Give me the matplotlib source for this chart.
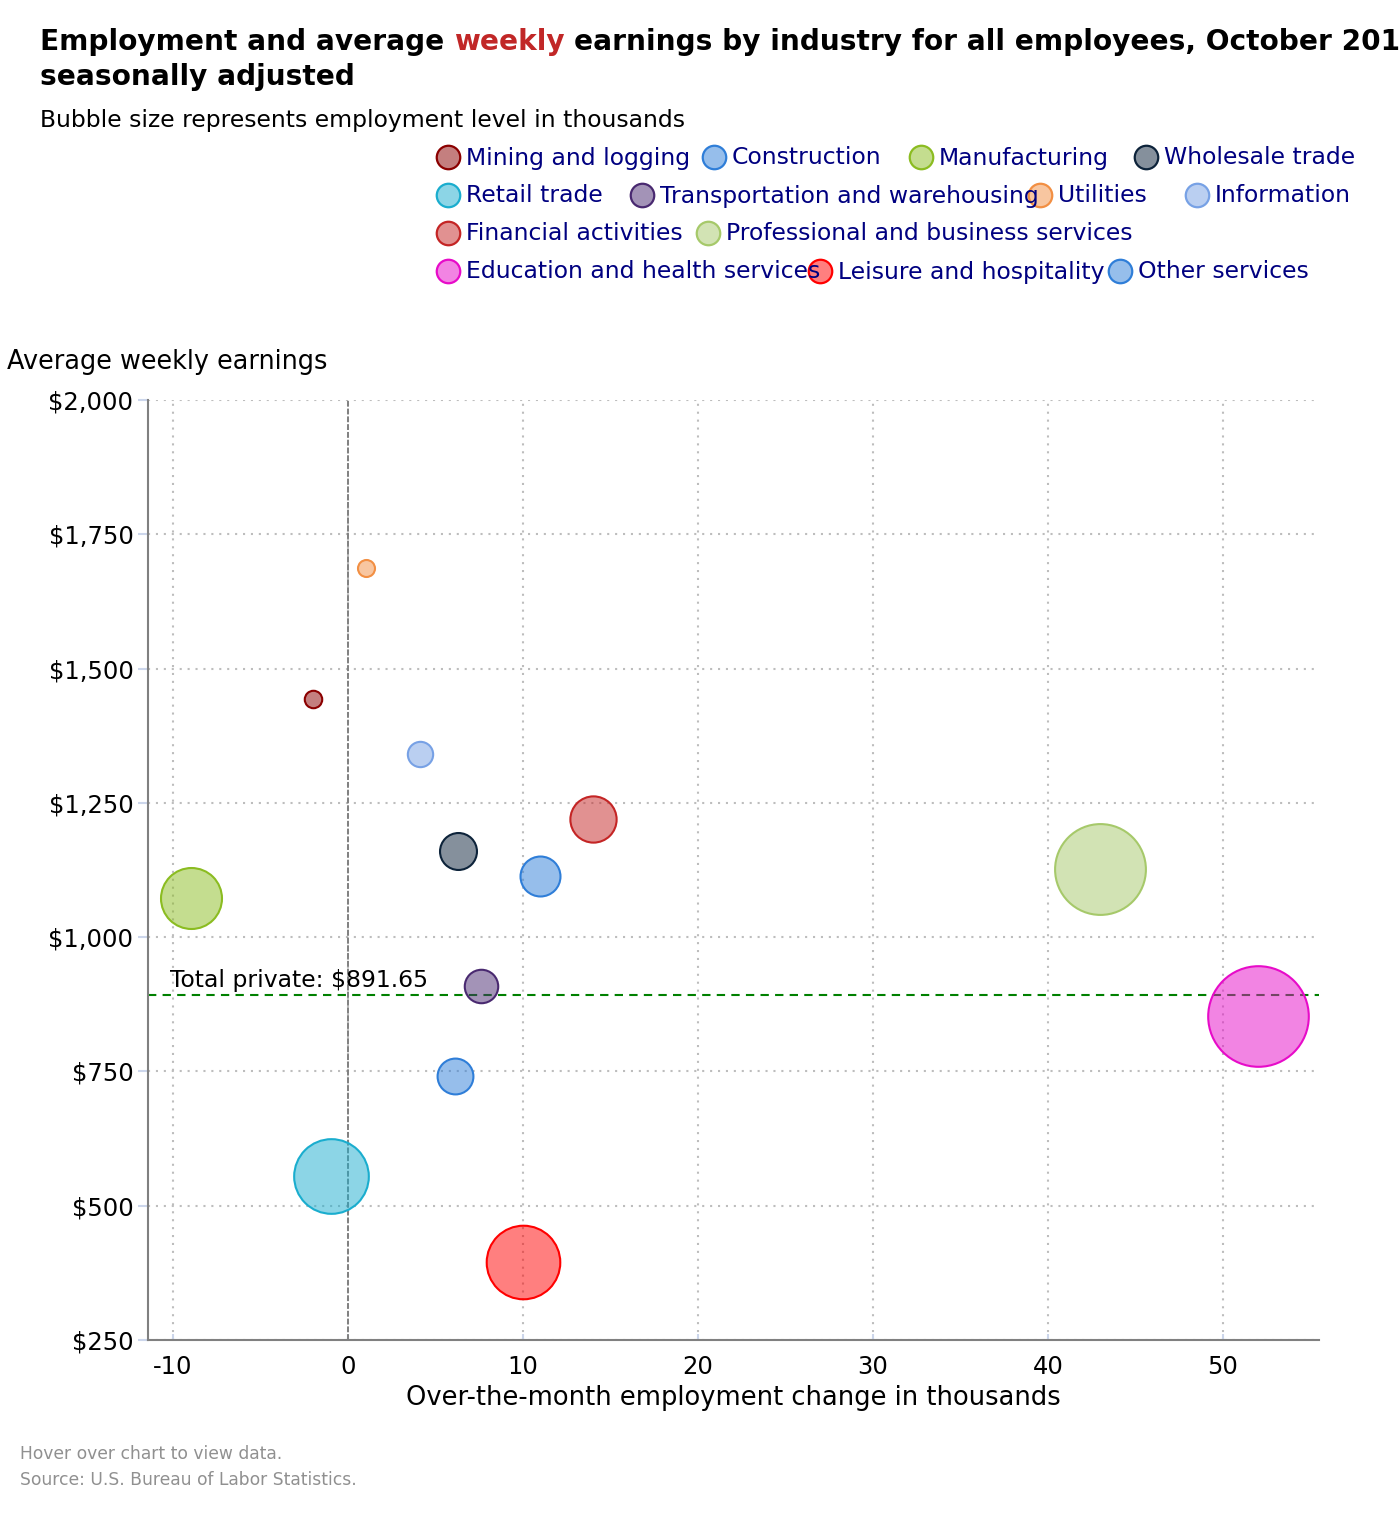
import matplotlib
matplotlib.use("Agg")
import matplotlib.pyplot as plt
from matplotlib.colors import to_rgba

# ---------------- data ----------------
industries = ["Mining and logging", "Construction", "Manufacturing", "Wholesale trade",
              "Retail trade", "Transportation and warehousing", "Utilities", "Information",
              "Financial activities", "Professional and business services",
              "Education and health services", "Leisure and hospitality", "Other services"]
employment_change = [-2.0, 11.0, -9.0, 6.3, -1.0, 7.6, 1.0, 4.1, 14.0, 43.0, 52.0, 10.0, 6.1]
weekly_earnings = [1443, 1114, 1073, 1160, 555, 909, 1687, 1341, 1220, 1127, 853, 395, 742]
employment_level = [679, 6683, 12290, 5880, 15940, 4950, 556, 2780, 8360, 20250, 22860, 15650, 5580]
edge_colors = ["#8B0000", "#2F7ED8", "#8BBC21", "#0D233A", "#1AADCE", "#492970", "#F28F43",
               "#77A1E5", "#C42525", "#A6C96A", "#E70BC9", "#FF0000", "#2F7ED8"]
total_private = 891.65
x_ticks = [-10, 0, 10, 20, 30, 40, 50]
y_ticks = [250, 500, 750, 1000, 1250, 1500, 1750, 2000]

# ---------------- figure ----------------
W, H, DPI = 1400, 1520, 100
fig = plt.figure(figsize=(W / DPI, H / DPI), dpi=DPI)
plt.rcParams["font.family"] = ["DejaVu Sans"]

def fx(px):
    return px / W

def fy(py):
    return 1 - py / H

# overlay axes in pixel coordinates for title / legend / notes
ov = fig.add_axes([0, 0, 1, 1])
ov.set_xlim(0, W)
ov.set_ylim(H, 0)
ov.axis("off")

# main axes
ax = fig.add_axes([fx(148), fy(1340), fx(1319 - 148), (1340 - 400) / H])
ax.set_xlim(-11.43, 55.49)
ax.set_ylim(250, 2000)

ax.grid(True, linestyle=(0, (1, 2.8)), color="#bdbdbd", linewidth=1.5, zorder=0)
ax.set_axisbelow(True)
for s in ["top", "right"]:
    ax.spines[s].set_visible(False)
for s in ["left", "bottom"]:
    ax.spines[s].set_color("#808080")
    ax.spines[s].set_linewidth(1.5)

ax.set_xticks(x_ticks)
ax.set_xticklabels([str(v) for v in x_ticks])
ax.set_yticks(y_ticks)
ax.set_yticklabels(["${:,}".format(v) for v in y_ticks])
ax.tick_params(axis="y", direction="out", length=7, width=1.5, color="#ccd6eb",
               pad=3.5, labelsize=17.5)
ax.tick_params(axis="x", direction="in", length=4, width=1.5, color="#ccd6eb",
               pad=11, labelsize=17.5)

# reference lines
ax.axvline(0, color="#808080", linestyle=(0, (3, 1)), linewidth=1.4, zorder=1)
ax.axhline(total_private, color="#008000", linestyle=(0, (4, 3)), linewidth=1.5, zorder=1)
ax.annotate("Total private: ${:,.2f}".format(total_private), xy=(-10.17, total_private),
            xytext=(0, 6), textcoords="offset points", fontsize=16.9, color="black",
            va="baseline", ha="left")

# bubbles (diameter linear in employment level between min and max size)
zmin, zmax = min(employment_level), max(employment_level)
dmin_px, dmax_px = 17.0, 100.6
for x, y, z, c in zip(employment_change, weekly_earnings, employment_level, edge_colors):
    d = dmin_px + (z - zmin) / (zmax - zmin) * (dmax_px - dmin_px)
    s = (d * 72 / DPI) ** 2
    ax.scatter([x], [y], s=s, facecolor=to_rgba(c, 0.5), edgecolor=c, linewidth=1.5, zorder=3)

# axis titles
fig.text(fx(733.5), fy(1405), "Over-the-month employment change in thousands",
         ha="center", va="baseline", fontsize=18.5)
fig.text(fx(7), fy(369), "Average weekly earnings", ha="left", va="baseline", fontsize=18.4)

# ---------------- title ----------------
fig.canvas.draw()
renderer = fig.canvas.get_renderer()

def width_px(text, **kw):
    t = fig.text(0, 0, text, **kw)
    w = t.get_window_extent(renderer=renderer).width
    t.remove()
    return w

tkw = dict(fontsize=20.2, fontweight="bold")
space = width_px("a a", **tkw) - width_px("aa", **tkw)
pieces = [("Employment and average", "black"), ("weekly", "#C12727"),
          ("earnings by industry for all employees, October 2016,", "black")]
xpos = 40
for txt, col in pieces:
    t = fig.text(fx(xpos), fy(50), txt, color=col, ha="left", va="baseline", **tkw)
    xpos += t.get_window_extent(renderer=renderer).width + space
fig.text(fx(40), fy(85), "seasonally adjusted", ha="left", va="baseline", **tkw)
fig.text(fx(40), fy(127), "Bubble size represents employment level in thousands",
         ha="left", va="baseline", fontsize=16.9)

# ---------------- legend ----------------
legend_rows_y = [157, 195, 233, 271]
legend_layout = [(0, 448), (0, 714), (0, 921), (0, 1146),
                 (1, 448), (1, 642), (1, 1040), (1, 1197),
                 (2, 448), (2, 708),
                 (3, 448), (3, 820), (3, 1120)]
for idx, (row, mx) in enumerate(legend_layout):
    y = legend_rows_y[row]
    c = edge_colors[idx]
    ov.scatter([mx], [y], s=(23.5 * 72 / DPI) ** 2, facecolor=to_rgba(c, 0.5),
               edgecolor=c, linewidth=1.6, zorder=3)
    ov.text(mx + 18, y + 1, industries[idx], color="#000080", fontsize=16.9,
            ha="left", va="center", zorder=4)

# ---------------- notes ----------------
fig.text(fx(20), fy(1459), "Hover over chart to view data.", color="#909090",
         fontsize=12.3, ha="left", va="baseline")
fig.text(fx(20), fy(1485), "Source: U.S. Bureau of Labor Statistics.", color="#909090",
         fontsize=12.3, ha="left", va="baseline")

fig.savefig("out.png", dpi=DPI)
